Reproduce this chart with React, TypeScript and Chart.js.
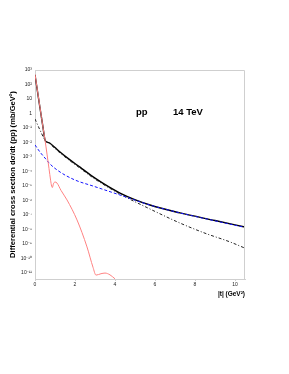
import { useEffect, useRef } from "react";
import { Chart, registerables } from "chart.js";

Chart.register(...registerables);

// |t| (GeV^2) and dσ/dt (mb/GeV^2)
const totalT = [0, 0.1, 0.25, 0.4, 0.5, 0.6, 0.75, 1.0, 1.25, 1.75, 2.25, 3, 4.25, 5.75, 7.25, 9, 10.5];
const totalV = [4.6e2, 5.6e1, 2.4, 1.1e-1, 1.5e-2, 1.07e-2, 8.9e-3, 4.5e-3, 2.2e-3, 6.3e-4, 2.0e-4, 3.5e-5, 3.3e-6, 4.9e-7, 1.4e-7, 4.2e-8, 1.5e-8];

const redT = [0, 0.1, 0.25, 0.4, 0.5, 0.6, 0.7, 0.78, 0.83, 0.87, 0.92, 1.0, 1.1, 1.3, 1.6, 2.1, 2.6, 2.9, 3.05, 3.3, 3.5, 3.75, 4.0];
const redV = [5.0e2, 6.0e1, 2.6, 1.1e-1, 1.5e-2, 1.6e-3, 1.6e-4, 2.5e-5, 1.0e-5, 7.9e-6, 1.4e-5, 1.9e-5, 1.6e-5, 5.0e-6, 1.1e-6, 4.6e-8, 6.3e-10, 2.5e-11, 7.2e-12, 9.0e-12, 1.0e-11, 7.5e-12, 4.0e-12];

const dashDotT = [0, 0.25, 0.5, 0.75, 1.25, 2.25, 3, 4.25, 5.75, 7.25, 8.5, 9.75, 10.5];
const dashDotV = [4.2e-1, 7.2e-2, 1.5e-2, 7.9e-3, 1.9e-3, 1.7e-4, 3.0e-5, 2.8e-6, 2.6e-7, 2.8e-8, 5.6e-9, 1.4e-9, 5.2e-10];

const blueT = [0, 0.25, 0.5, 0.75, 1.25, 2, 2.9, 4.25, 5.75, 7.25, 9, 10.5];
const blueV = [6.8e-3, 2.2e-3, 8.5e-4, 3.3e-4, 9.3e-5, 2.6e-5, 1.0e-5, 2.4e-6, 4.9e-7, 1.4e-7, 4.0e-8, 1.4e-8];

const yTickExponents = [3, 2, 1, 0, -1, -2, -3, -4, -5, -6, -7, -8, -9, -10, -11];
const xTickValues = [0, 2, 4, 6, 8, 10];

const SUP: Record<string, string> = {
  "0": "⁰", "1": "¹", "2": "²", "3": "³", "4": "⁴", "5": "⁵",
  "6": "⁶", "7": "⁷", "8": "⁸", "9": "⁹", "-": "⁻",
};

function powLabel(v: number): string {
  const e = Math.round(Math.log10(v));
  if (e === 0) return "1";
  if (e === 1) return "10";
  return "10" + String(e).split("").map((c) => SUP[c] || c).join("");
}

const FONT = "'Liberation Sans', Arial, Helvetica, sans-serif";

const zip = (xs: number[], ys: number[]) => xs.map((x, i) => ({ x, y: ys[i] }));

export default function App() {
  const ref = useRef<HTMLCanvasElement | null>(null);

  useEffect(() => {
    if (!ref.current) return;
    const framePlugin = {
      id: "frameAndLabels",
      afterDraw(chart: any) {
        const { ctx, chartArea } = chart;
        const { left, top, right, bottom } = chartArea;
        ctx.save();
        ctx.strokeStyle = "#cfcfcf";
        ctx.lineWidth = 1;
        ctx.beginPath();
        ctx.moveTo(left, top + 0.5);
        ctx.lineTo(right - 0.5, top + 0.5);
        ctx.lineTo(right - 0.5, bottom);
        ctx.stroke();
        const xs = chart.scales.x;
        const ys = chart.scales.y;
        ctx.fillStyle = "#000";
        ctx.font = `bold 9.5px ${FONT}`;
        ctx.textBaseline = "middle";
        ctx.textAlign = "left";
        const yy = ys.getPixelForValue(1.25);
        ctx.fillText("pp", xs.getPixelForValue(5.05), yy);
        ctx.fillText("14 TeV", xs.getPixelForValue(6.9), yy);
        ctx.restore();
      },
    };

    const chart = new Chart(ref.current, {
      type: "line",
      data: {
        datasets: [
          {
            data: zip(redT, redV),
            borderColor: "rgb(255,130,130)",
            borderWidth: 1,
            pointRadius: 0,
            cubicInterpolationMode: "monotone",
          },
          {
            data: zip(blueT, blueV),
            borderColor: "rgb(20,20,255)",
            borderWidth: 1,
            borderDash: [3, 2],
            pointRadius: 0,
            cubicInterpolationMode: "monotone",
          },
          {
            data: zip(dashDotT, dashDotV),
            borderColor: "#222",
            borderWidth: 1,
            borderDash: [3, 2, 1, 2],
            pointRadius: 0,
            cubicInterpolationMode: "monotone",
          },
          {
            data: zip(totalT, totalV),
            borderColor: "#000",
            borderWidth: 1.4,
            pointRadius: 0,
            cubicInterpolationMode: "monotone",
          },
        ],
      } as any,
      options: {
        animation: false,
        responsive: false,
        events: [],
        layout: { padding: { left: 0, top: 70, right: 44, bottom: 73 } },
        plugins: {
          legend: { display: false },
          tooltip: { enabled: false },
        },
        scales: {
          x: {
            type: "linear",
            min: 0,
            max: 10.5,
            afterFit: (s: any) => {
              s.height = 22;
            },
            afterBuildTicks: (s: any) => {
              s.ticks = xTickValues.map((v) => ({ value: v }));
            },
            grid: { drawOnChartArea: false, drawTicks: true, tickLength: 2, color: "#cfcfcf" },
            border: { color: "#cfcfcf" },
            ticks: {
              autoSkip: false,
              maxRotation: 0,
              padding: 1,
              color: "#222",
              font: { family: FONT, size: 5 },
            },
            title: {
              display: true,
              text: "|t| (GeV²)",
              align: "end",
              color: "#000",
              padding: { top: 0, bottom: 3 },
              font: { family: FONT, size: 6.5, weight: "bold" },
            },
          },
          y: {
            type: "logarithmic",
            min: Math.pow(10, -11.41),
            max: 1000,
            afterFit: (s: any) => {
              s.width = 35;
            },
            afterBuildTicks: (s: any) => {
              s.ticks = yTickExponents.map((e) => ({ value: Math.pow(10, e) }));
            },
            grid: { drawOnChartArea: false, drawTicks: false, color: "#cfcfcf" },
            border: { color: "#cfcfcf" },
            ticks: {
              autoSkip: false,
              padding: 3,
              color: "#222",
              font: { family: FONT, size: 5 },
              callback: (v: any) => powLabel(Number(v)),
            },
            title: {
              display: true,
              text: "Differential cross section dσ/dt (pp) (mb/GeV²)",
              color: "#000",
              padding: { top: 8, bottom: 0 },
              font: { family: FONT, size: 7.6, weight: "bold" },
            },
          },
        },
      } as any,
      plugins: [framePlugin],
    });
    return () => chart.destroy();
  }, []);

  return (
    <div style={{ position: "absolute", left: 0, top: 0, width: 289, height: 374, background: "#fff" }}>
      <canvas ref={ref} width={289} height={374} style={{ display: "block" }} />
    </div>
  );
}
